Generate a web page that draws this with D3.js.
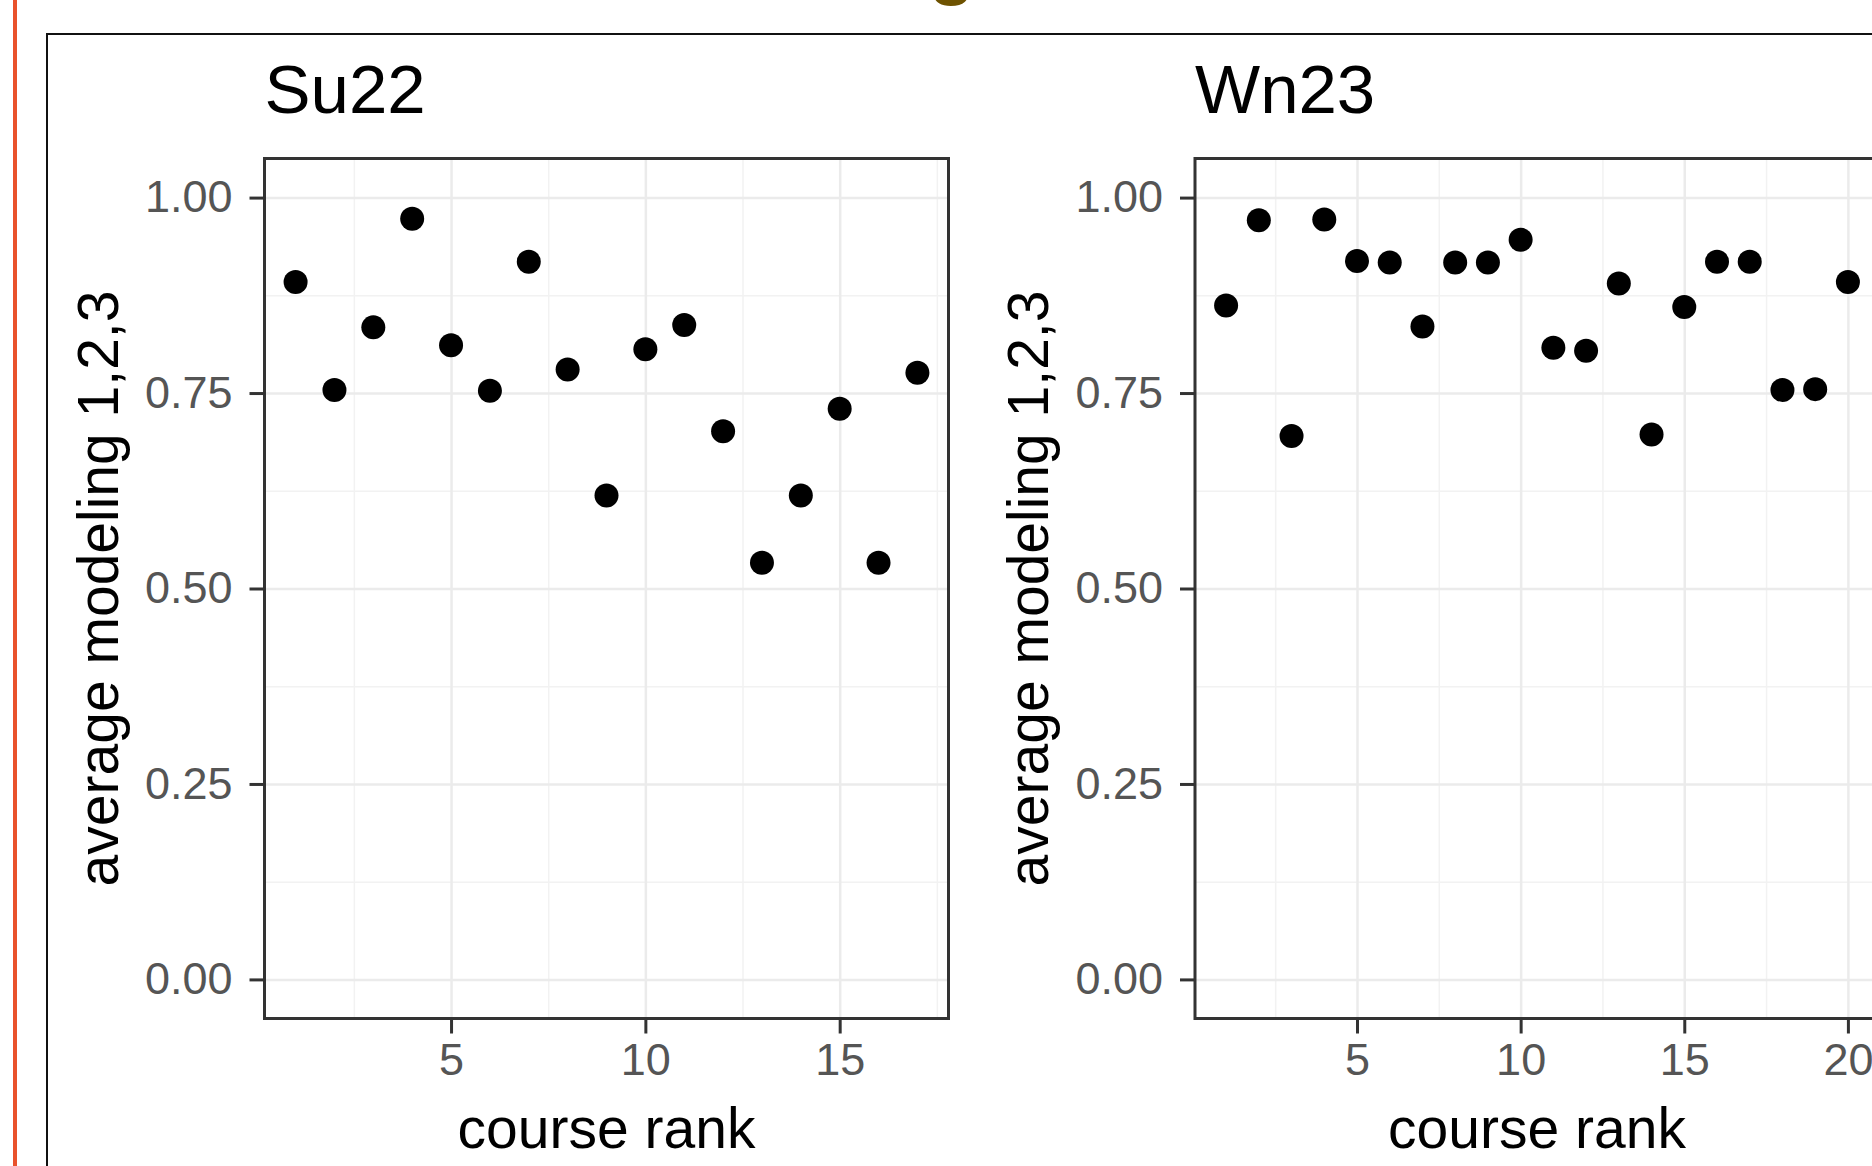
<!DOCTYPE html>
<html>
<head>
<meta charset="utf-8">
<script src="https://cdn.jsdelivr.net/npm/d3@7"></script>
<style>
  body { margin: 0; background: #fff; }
  svg { display: block; font-family: 'Liberation Sans', Arial, Helvetica, sans-serif; }
</style>
</head>
<body>
<svg id="chart" width="1872" height="1166"></svg>
<script>
// course ranks and average modeling scores
const su22Ranks = [1, 2, 3, 4, 5, 6, 7, 8, 9, 10, 11, 12, 13, 14, 15, 16, 17];
const su22Values = [0.892, 0.754, 0.834, 0.973, 0.811, 0.753, 0.918, 0.780, 0.619, 0.806,
                    0.837, 0.701, 0.533, 0.619, 0.730, 0.533, 0.776];

const wn23Ranks = [1, 2, 3, 4, 5, 6, 7, 8, 9, 10, 11, 12, 13, 14, 15, 16, 17, 18, 19, 20];
const wn23Values = [0.862, 0.971, 0.695, 0.972, 0.919, 0.917, 0.835, 0.917, 0.917, 0.946,
                    0.808, 0.804, 0.890, 0.697, 0.860, 0.918, 0.918, 0.754, 0.755, 0.892];

const yTicks = [0, 0.25, 0.5, 0.75, 1];
const yMinor = [0.125, 0.375, 0.625, 0.875];
const su22XTicks = [5, 10, 15];
const wn23XTicks = [5, 10, 15, 20];
const xMinor = [2.5, 7.5, 12.5, 17.5];

const panelTitles = ['Su22', 'Wn23'];
const xTitle = 'course rank';
const yTitle = 'average modeling 1,2,3';

const svg = d3.select('#chart');

// slide decorations: orange rule, frame, bit of the slide title
svg.append('rect').attr('x', 13).attr('y', 0).attr('width', 4).attr('height', 1166).attr('fill', '#e9522c');
svg.append('rect').attr('x', 47).attr('y', 34).attr('width', 1900).attr('height', 1200)
    .attr('fill', 'none').attr('stroke', '#111').attr('stroke-width', 2);
svg.append('text').attr('x', 952).attr('y', -10).attr('text-anchor', 'middle')
    .attr('font-size', 76).attr('font-weight', 'bold').attr('fill', '#6e5200').text('g');

const panelW = 684, plotTop = 158.5, plotBottom = 1018.5;

const getY = d3.scaleLinear().domain([-0.05, 1.05]).range([plotBottom, plotTop]);

function expand(ranks) {
    const lo = d3.min(ranks), hi = d3.max(ranks), pad = (hi - lo) * 0.05;
    return [lo - pad, hi + pad];
}

function drawPanel(left, title, ranks, values, xTicks) {
    const getX = d3.scaleLinear().domain(expand(ranks)).range([left, left + panelW]);
    const g = svg.append('g');
    const h = plotBottom - plotTop;

    // minor grid
    g.append('g').attr('transform', 'translate(0,' + plotBottom + ')')
        .call(d3.axisBottom(getX).tickValues(xMinor).tickSize(-h).tickFormat(''))
        .call(a => a.select('.domain').remove())
        .selectAll('line').attr('stroke', '#f2f2f2').attr('stroke-width', 1.5);
    g.append('g').attr('transform', 'translate(' + left + ',0)')
        .call(d3.axisLeft(getY).tickValues(yMinor).tickSize(-panelW).tickFormat(''))
        .call(a => a.select('.domain').remove())
        .selectAll('line').attr('stroke', '#f2f2f2').attr('stroke-width', 1.5);

    // major grid
    g.append('g').attr('transform', 'translate(0,' + plotBottom + ')')
        .call(d3.axisBottom(getX).tickValues(xTicks).tickSize(-h).tickFormat(''))
        .call(a => a.select('.domain').remove())
        .selectAll('line').attr('stroke', '#ebebeb').attr('stroke-width', 2.5);
    g.append('g').attr('transform', 'translate(' + left + ',0)')
        .call(d3.axisLeft(getY).tickValues(yTicks).tickSize(-panelW).tickFormat(''))
        .call(a => a.select('.domain').remove())
        .selectAll('line').attr('stroke', '#ebebeb').attr('stroke-width', 2.5);

    // points
    g.append('g').selectAll('circle').data(ranks).enter().append('circle')
        .attr('cx', d => getX(d))
        .attr('cy', (d, i) => getY(values[i]))
        .attr('r', 12)
        .attr('fill', '#000');

    // panel border
    g.append('rect').attr('x', left).attr('y', plotTop).attr('width', panelW).attr('height', h)
        .attr('fill', 'none').attr('stroke', '#333').attr('stroke-width', 3);

    // axes
    const xAxis = g.append('g').attr('transform', 'translate(0,' + plotBottom + ')')
        .call(d3.axisBottom(getX).tickValues(xTicks).tickSize(15).tickPadding(10).tickFormat(d3.format('d')));
    const yAxis = g.append('g').attr('transform', 'translate(' + left + ',0)')
        .call(d3.axisLeft(getY).tickValues(yTicks).tickSize(15).tickPadding(17).tickFormat(d3.format('.2f')));
    [xAxis, yAxis].forEach(a => {
        a.select('.domain').remove();
        a.selectAll('line').attr('stroke', '#333').attr('stroke-width', 3);
        a.selectAll('text').attr('fill', '#555').attr('font-size', 45)
            .attr('font-family', "'Liberation Sans', Arial, sans-serif");
    });

    // titles
    g.append('text').attr('x', left).attr('y', 113).attr('font-size', 69).attr('fill', '#000').text(title);
    g.append('text').attr('x', left + panelW / 2).attr('y', 1148).attr('text-anchor', 'middle')
        .attr('font-size', 57).attr('fill', '#000').text(xTitle);
    g.append('text').attr('transform', 'translate(' + (left - 147) + ',' + (plotTop + h / 2) + ') rotate(-90)')
        .attr('text-anchor', 'middle').attr('font-size', 57).attr('fill', '#000').text(yTitle);
}

drawPanel(264.5, panelTitles[0], su22Ranks, su22Values, su22XTicks);
drawPanel(1195, panelTitles[1], wn23Ranks, wn23Values, wn23XTicks);
</script>
</body>
</html>
